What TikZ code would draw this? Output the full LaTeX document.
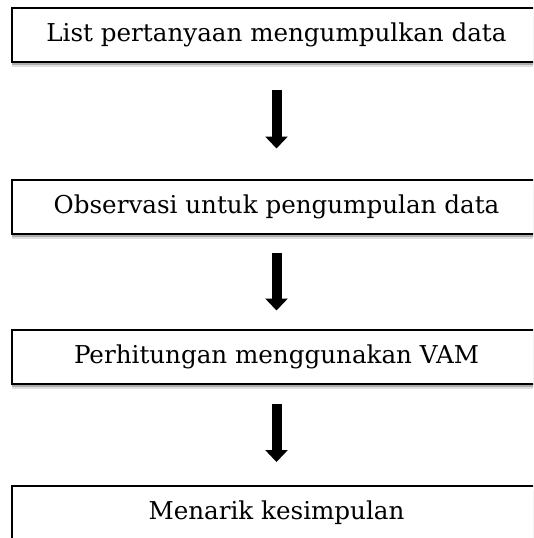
\documentclass[tikz,border=0pt]{standalone}
\usepackage{fontspec}
\setmainfont{DejaVu Serif}
\usetikzlibrary{arrows.meta,shadows}
\tikzset{
  stepbox/.style={draw=black, line width=2pt, fill=white, rectangle,
    minimum width=529pt, minimum height=54pt, inner sep=0pt,
    font=\fontsize{24.6}{29}\selectfont,
    drop shadow={fill=black!25, opacity=0.5, shadow xshift=0pt, shadow yshift=-5.5pt},
    drop shadow={fill=black!45, opacity=0.6, shadow xshift=0pt, shadow yshift=-3.5pt}},
  flowarrow/.style={line width=10pt, -{Triangle[length=12pt,width=22pt]}}
}
\begin{document}
\begin{tikzpicture}[x=1pt,y=-1pt]
\useasboundingbox (0,0) rectangle (533,538);
\clip (0,0) rectangle (533,538);
\node[stepbox] (b1) at (276.5,34.75) {List pertanyaan mengumpulkan data};
\node[stepbox] (b2) at (276.5,206.5) {Observasi untuk pengumpulan data};
\node[stepbox] (b3) at (276.5,356.5) {Perhitungan menggunakan VAM};
\node[stepbox] (b4) at (276.5,513) {Menarik kesimpulan};
\draw[flowarrow, shorten <=27pt, shorten >=30pt] (b1.south) -- (b2.north);
\draw[flowarrow, shorten <=18pt, shorten >=18pt] (b2.south) -- (b3.north);
\draw[flowarrow, shorten <=19pt, shorten >=23pt] (b3.south) -- (b4.north);
\end{tikzpicture}
\end{document}
